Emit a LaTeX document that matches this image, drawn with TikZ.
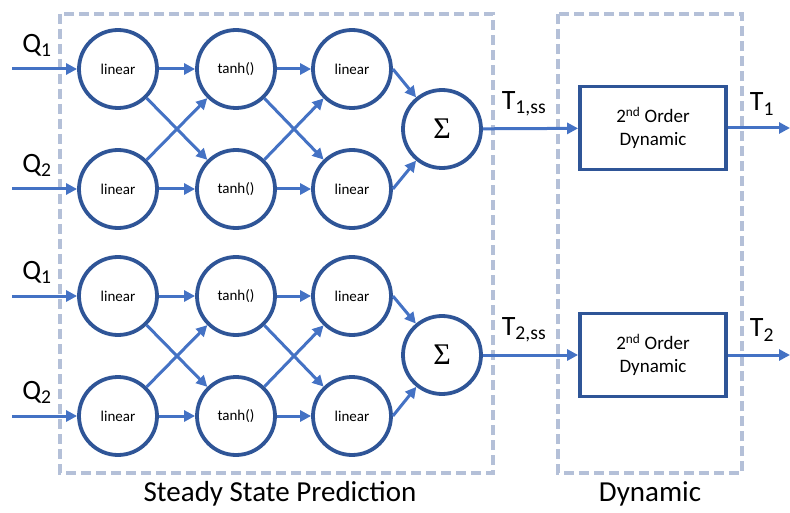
\documentclass[tikz,border=0pt]{standalone}
\usepackage{fontspec}
\setmainfont{Carlito}
\newfontfamily\sigmafont{Liberation Serif}
\usepackage{tikz}
\usetikzlibrary{arrows.meta}
\definecolor{nodeblue}{HTML}{2F5597}
\definecolor{arrowblue}{HTML}{4472C4}
\definecolor{framegray}{HTML}{B4C0D8}
\tikzset{every edge/.style={draw, arrowblue, line width=3pt, -{Triangle[length=11pt,width=11pt]}}}
\tikzset{neuron/.style={draw=nodeblue, line width=3.8pt, circle, minimum size=78pt, inner sep=0pt, font=\fontsize{15}{18}\selectfont}}
\tikzset{dynbox/.style={draw=nodeblue, line width=3.8pt, minimum width=146pt, minimum height=83pt, align=center, font=\fontsize{19}{23}\selectfont}}
\tikzset{region/.style={draw=framegray, line width=3.5pt, dash pattern=on 10pt off 5pt}}
\tikzset{lbl/.style={font=\fontsize{28}{32}\selectfont, inner sep=0pt}}

\begin{document}
\begin{tikzpicture}[x=1pt, y=-1pt]
  \useasboundingbox (0,0) rectangle (790,513);

  \draw[region] (60, 14) rectangle (493, 473);
  \draw[region] (558, 14) rectangle (742, 473);
  \node[font=\fontsize{29}{33}\selectfont] at (280, 494) (ssp) {Steady State Prediction};
  \node[font=\fontsize{29}{33}\selectfont] at (650, 494) (dyn) {Dynamic};

  % upper network
  \node[neuron] at (118, 69)  (a1) {linear};
  \node[neuron] at (118, 189) (a2) {linear};
  \node[neuron] at (236, 69)  (h1) {tanh()};
  \node[neuron] at (236, 189) (h2) {tanh()};
  \node[neuron] at (352, 69)  (c1) {linear};
  \node[neuron] at (352, 189) (c2) {linear};
  \node[neuron, font=\sigmafont\fontsize{30}{34}\selectfont] at (442, 129) (sum1) {Σ};

  % lower network
  \node[neuron] at (118, 296) (a3) {linear};
  \node[neuron] at (118, 416) (a4) {linear};
  \node[neuron] at (236, 296) (h3) {tanh()};
  \node[neuron] at (236, 416) (h4) {tanh()};
  \node[neuron] at (352, 296) (c3) {linear};
  \node[neuron] at (352, 416) (c4) {linear};
  \node[neuron, font=\sigmafont\fontsize{30}{34}\selectfont] at (442, 355) (sum2) {Σ};

  \node[dynbox] at (653, 128) (dyn1) {2\textsuperscript{nd} Order\\Dynamic};
  \node[dynbox] at (653, 355) (dyn2) {2\textsuperscript{nd} Order\\Dynamic};

  \coordinate (in1) at (12, 69);
  \coordinate (in2) at (12, 189);
  \coordinate (in3) at (12, 296);
  \coordinate (in4) at (12, 416);
  \coordinate (out1) at (790, 128);
  \coordinate (out2) at (790, 355);

  \node[lbl] at (37, 45)  (q1) {Q\textsubscript{1}};
  \node[lbl] at (37, 165) (q2) {Q\textsubscript{2}};
  \node[lbl] at (37, 272) (q3) {Q\textsubscript{1}};
  \node[lbl] at (37, 392) (q4) {Q\textsubscript{2}};
  \node[lbl] at (524, 104) (t1ss) {T\textsubscript{1,ss}};
  \node[lbl] at (524, 330) (t2ss) {T\textsubscript{2,ss}};
  \node[lbl] at (762, 104) (t1) {T\textsubscript{1}};
  \node[lbl] at (762, 330) (t2) {T\textsubscript{2}};

  \draw (in1) edge (a1);
  \draw (in2) edge (a2);
  \draw (a1) edge (h1);
  \draw (a1) edge (h2);
  \draw (a2) edge (h1);
  \draw (a2) edge (h2);
  \draw (h1) edge (c1);
  \draw (h1) edge (c2);
  \draw (h2) edge (c1);
  \draw (h2) edge (c2);
  \draw (c1.east) edge (sum1);
  \draw (c2.east) edge (sum1);
  \draw (sum1) edge (dyn1);
  \draw (dyn1) edge (out1);

  \draw (in3) edge (a3);
  \draw (in4) edge (a4);
  \draw (a3) edge (h3);
  \draw (a3) edge (h4);
  \draw (a4) edge (h3);
  \draw (a4) edge (h4);
  \draw (h3) edge (c3);
  \draw (h3) edge (c4);
  \draw (h4) edge (c3);
  \draw (h4) edge (c4);
  \draw (c3.east) edge (sum2);
  \draw (c4.east) edge (sum2);
  \draw (sum2) edge (dyn2);
  \draw (dyn2) edge (out2);
\end{tikzpicture}
\end{document}
